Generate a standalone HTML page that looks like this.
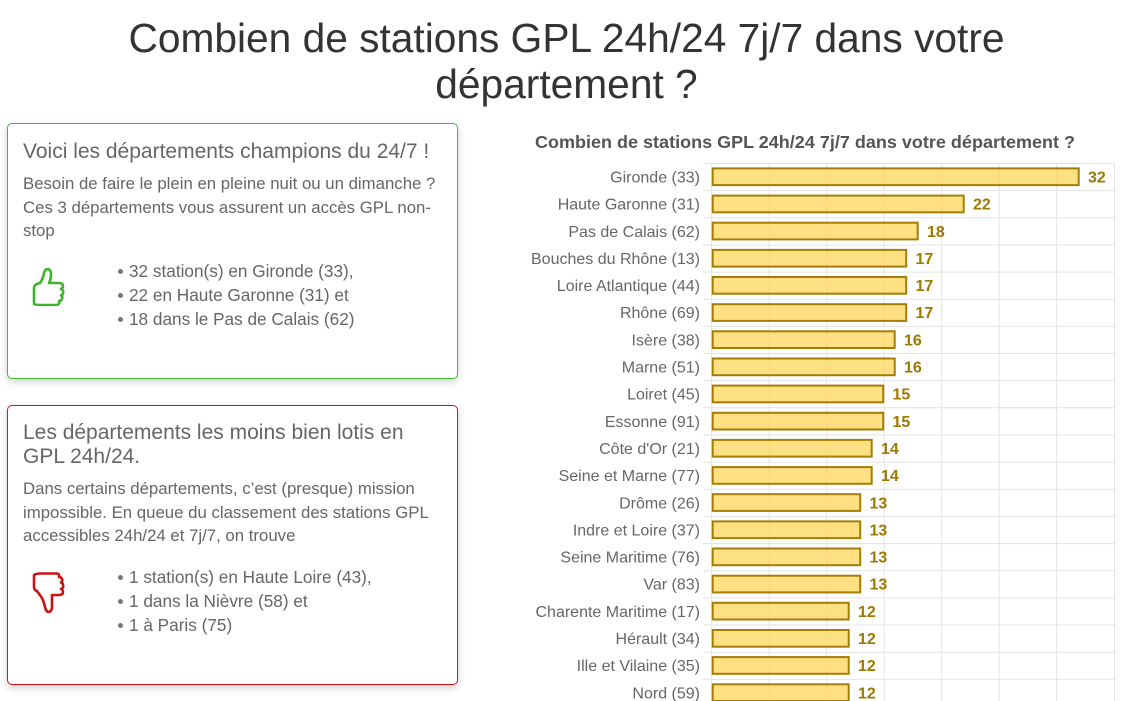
<!DOCTYPE html>
<html><head><meta charset="utf-8"><style>
html,body{margin:0;padding:0;background:#fff;}
body{width:1125px;height:701px;position:relative;overflow:hidden;font-family:"Liberation Sans",Arial,sans-serif;}
.h1{position:absolute;left:0;width:1133px;text-align:center;font-size:40.7px;color:#333;line-height:46px;top:15px;white-space:nowrap;}
.box{position:absolute;left:7px;width:449px;border-radius:5px;box-shadow:0 3px 8px rgba(0,0,0,0.18);background:#fff;}
.b1{top:123px;height:254px;border:1px solid #46b82e;}
.b2{top:405px;height:278px;border:1px solid #d11414;}
.t{position:absolute;left:23px;color:#666;white-space:nowrap;}
.hd{font-size:21px;line-height:24px;}
.p{font-size:16.8px;line-height:23.7px;}
.li{position:absolute;left:129px;font-size:17.2px;line-height:24px;color:#666;white-space:nowrap;}
.li div{position:relative;}
.li div:before{content:"";position:absolute;left:-11px;top:10px;width:5px;height:5px;border-radius:50%;background:#777;}
</style></head><body>
<div class="h1">Combien de stations GPL 24h/24 7j/7 dans votre<br>département ?</div>

<div class="box b1"></div>
<div class="t hd" style="top:140px;">Voici les départements champions du 24/7 !</div>
<div class="t p" style="top:172px;">Besoin de faire le plein en pleine nuit ou un dimanche ?<br>Ces 3 départements vous assurent un accès GPL non-<br>stop</div>
<svg style="position:absolute;left:30px;top:266px" width="38" height="40" viewBox="0 0 38 40">
<path d="M4 38 L4 22 Q4 19 7 18 L10 17 Q13 13 14 7 Q15 3 18 3 Q21 4 21 8 Q21 13 19 17 L29 17 Q33 17 33 20 Q33 22 31 23 Q34 24 33 27 Q33 29 31 29.5 Q33 31 32 33 Q31 35 29 35 Q30 38 27 39 L10 39 Q6 39 4 38 Z" fill="none" stroke="#3cb52a" stroke-width="2.6" stroke-linejoin="round"/>
</svg>
<div class="li" style="top:259px;"><div>32 station(s) en Gironde (33),</div><div>22 en Haute Garonne (31) et</div><div>18 dans le Pas de Calais (62)</div></div>

<div class="box b2"></div>
<div class="t hd" style="top:421px;">Les départements les moins bien lotis en<br>GPL 24h/24.</div>
<div class="t p" style="top:477px;">Dans certains départements, c’est (presque) mission<br>impossible. En queue du classement des stations GPL<br>accessibles 24h/24 et 7j/7, on trouve</div>
<svg style="position:absolute;left:30px;top:572px" width="38" height="42" viewBox="0 0 38 42">
<path d="M4 3 L4 15 Q4 18 7 19 L12 26 Q14 30 15 35 Q16 40 19 40 Q22 39 22 35 L22 23 L29 23 Q33 23 33 20 Q33 18 31 17 Q34 16 33 13 Q33 11 31 10.5 Q33 9 32 7 Q31 5 29 5 Q30 2 27 1.5 L10 1.5 Q6 1.5 4 3 Z" fill="none" stroke="#cc1111" stroke-width="2.6" stroke-linejoin="round"/>
</svg>
<div class="li" style="top:565px;"><div>1 station(s) en Haute Loire (43),</div><div>1 dans la Nièvre (58) et</div><div>1 à Paris (75)</div></div>

<svg style="position:absolute;left:0;top:0" width="1125" height="701" viewBox="0 0 1125 701" font-family="Liberation Sans, Arial, sans-serif">
<text x="535" y="148" font-size="17.5" font-weight="bold" fill="#555" textLength="540" lengthAdjust="spacingAndGlyphs">Combien de stations GPL 24h/24 7j/7 dans votre département ?</text>
<g stroke="#e3e3e3" stroke-width="1">
<line x1="711.7" y1="163" x2="711.7" y2="701"/>
<line x1="769.2" y1="163" x2="769.2" y2="701"/>
<line x1="826.7" y1="163" x2="826.7" y2="701"/>
<line x1="884.2" y1="163" x2="884.2" y2="701"/>
<line x1="941.7" y1="163" x2="941.7" y2="701"/>
<line x1="999.2" y1="163" x2="999.2" y2="701"/>
<line x1="1056.7" y1="163" x2="1056.7" y2="701"/>
<line x1="1114.5" y1="163" x2="1114.5" y2="701"/>
<line x1="703" y1="163.5" x2="1115" y2="163.5"/>
<line x1="703" y1="190.6" x2="1115" y2="190.6"/>
<line x1="703" y1="217.8" x2="1115" y2="217.8"/>
<line x1="703" y1="244.9" x2="1115" y2="244.9"/>
<line x1="703" y1="272.1" x2="1115" y2="272.1"/>
<line x1="703" y1="299.2" x2="1115" y2="299.2"/>
<line x1="703" y1="326.4" x2="1115" y2="326.4"/>
<line x1="703" y1="353.5" x2="1115" y2="353.5"/>
<line x1="703" y1="380.7" x2="1115" y2="380.7"/>
<line x1="703" y1="407.8" x2="1115" y2="407.8"/>
<line x1="703" y1="435.0" x2="1115" y2="435.0"/>
<line x1="703" y1="462.1" x2="1115" y2="462.1"/>
<line x1="703" y1="489.3" x2="1115" y2="489.3"/>
<line x1="703" y1="516.4" x2="1115" y2="516.4"/>
<line x1="703" y1="543.6" x2="1115" y2="543.6"/>
<line x1="703" y1="570.7" x2="1115" y2="570.7"/>
<line x1="703" y1="597.9" x2="1115" y2="597.9"/>
<line x1="703" y1="625.0" x2="1115" y2="625.0"/>
<line x1="703" y1="652.2" x2="1115" y2="652.2"/>
<line x1="703" y1="679.3" x2="1115" y2="679.3"/>
</g>
<g fill="rgb(255,214,90)" fill-opacity="0.75" stroke="#a57d06" stroke-width="2">
<rect x="712.7" y="168.4" width="366" height="16.7"/>
<rect x="712.7" y="195.6" width="251" height="16.7"/>
<rect x="712.7" y="222.7" width="205" height="16.7"/>
<rect x="712.7" y="249.9" width="193.5" height="16.7"/>
<rect x="712.7" y="277.0" width="193.5" height="16.7"/>
<rect x="712.7" y="304.2" width="193.5" height="16.7"/>
<rect x="712.7" y="331.3" width="182" height="16.7"/>
<rect x="712.7" y="358.5" width="182" height="16.7"/>
<rect x="712.7" y="385.6" width="170.5" height="16.7"/>
<rect x="712.7" y="412.8" width="170.5" height="16.7"/>
<rect x="712.7" y="439.9" width="159" height="16.7"/>
<rect x="712.7" y="467.1" width="159" height="16.7"/>
<rect x="712.7" y="494.2" width="147.5" height="16.7"/>
<rect x="712.7" y="521.4" width="147.5" height="16.7"/>
<rect x="712.7" y="548.5" width="147.5" height="16.7"/>
<rect x="712.7" y="575.7" width="147.5" height="16.7"/>
<rect x="712.7" y="602.8" width="136" height="16.7"/>
<rect x="712.7" y="630.0" width="136" height="16.7"/>
<rect x="712.7" y="657.1" width="136" height="16.7"/>
<rect x="712.7" y="684.3" width="136" height="16.7"/>
</g>
<g font-size="16" fill="#666" text-anchor="end">
<text x="700" y="182.5">Gironde (33)</text>
<text x="700" y="209.6">Haute Garonne (31)</text>
<text x="700" y="236.8">Pas de Calais (62)</text>
<text x="700" y="263.9">Bouches du Rhône (13)</text>
<text x="700" y="291.1">Loire Atlantique (44)</text>
<text x="700" y="318.2">Rhône (69)</text>
<text x="700" y="345.4">Isère (38)</text>
<text x="700" y="372.5">Marne (51)</text>
<text x="700" y="399.7">Loiret (45)</text>
<text x="700" y="426.8">Essonne (91)</text>
<text x="700" y="454.0">Côte d'Or (21)</text>
<text x="700" y="481.1">Seine et Marne (77)</text>
<text x="700" y="508.3">Drôme (26)</text>
<text x="700" y="535.4">Indre et Loire (37)</text>
<text x="700" y="562.6">Seine Maritime (76)</text>
<text x="700" y="589.7">Var (83)</text>
<text x="700" y="616.9">Charente Maritime (17)</text>
<text x="700" y="644.0">Hérault (34)</text>
<text x="700" y="671.2">Ille et Vilaine (35)</text>
<text x="700" y="698.3">Nord (59)</text>
</g>
<g font-size="16" font-weight="bold" fill="#9f7800">
<text x="1088" y="182.5">32</text>
<text x="973" y="209.6">22</text>
<text x="927" y="236.8">18</text>
<text x="915.5" y="263.9">17</text>
<text x="915.5" y="291.1">17</text>
<text x="915.5" y="318.2">17</text>
<text x="904" y="345.4">16</text>
<text x="904" y="372.5">16</text>
<text x="892.5" y="399.7">15</text>
<text x="892.5" y="426.8">15</text>
<text x="881" y="454.0">14</text>
<text x="881" y="481.1">14</text>
<text x="869.5" y="508.3">13</text>
<text x="869.5" y="535.4">13</text>
<text x="869.5" y="562.6">13</text>
<text x="869.5" y="589.7">13</text>
<text x="858" y="616.9">12</text>
<text x="858" y="644.0">12</text>
<text x="858" y="671.2">12</text>
<text x="858" y="698.3">12</text>
</g>
</svg>
</body></html>
